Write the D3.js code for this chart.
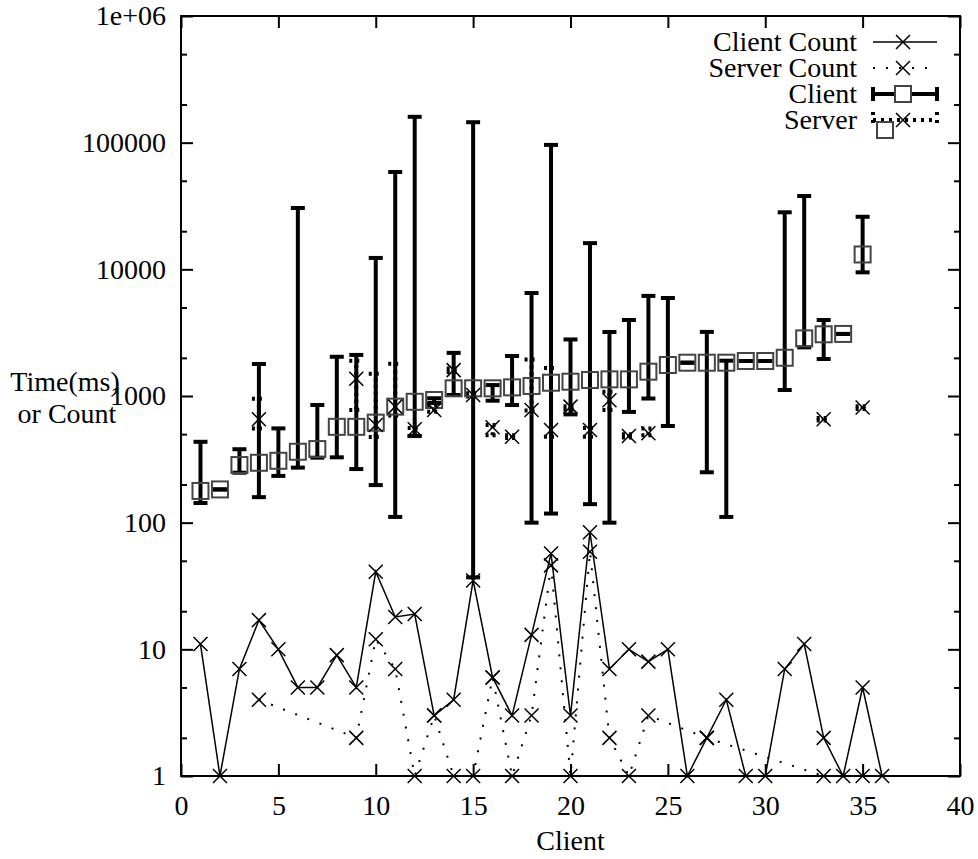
<!DOCTYPE html>
<html>
<head>
<meta charset="utf-8">
<script src="https://cdn.jsdelivr.net/npm/d3@7"></script>
<style>
  body { margin: 0; background: #fff; }
  text { font-family: "Liberation Serif", "DejaVu Serif", serif; fill: #000; }
</style>
</head>
<body>
<svg id="chart" width="978" height="859"></svg>
<script>
// Client count (solid line) and server count (dotted line)
const countClients = [1,2,3,4,5,6,7,8,9,10,11,12,13,14,15,16,17,18,19,20,21,22,23,24,25,26,27,28,29,30,31,32,33,34,35,36];
const clientCount  = [11,1,7,17,10,5,5,9,5,41,18,19,3,4,35,6,3,13,57,3,84,7,10,8,10,1,2,4,1,1,7,11,2,1,5,1];

const serverCountClients = [4,9,10,11,12,13,14,15,16,17,18,19,20,21,22,23,24,27,33,35];
const serverCount        = [4,2,12,7,1,3,1,1,6,1,3,46,1,59,2,1,3,2,1,1];

// Client time (ms): value with low / high error bar
const clientTimeClients = [1,2,3,4,5,6,7,8,9,10,11,12,13,14,15,16,17,18,19,20,21,22,23,24,25,26,27,28,29,30,31,32,33,34,35];
const clientTime = [178,183,285,297,308,363,381,571,571,616,824,900,930,1150,1150,1150,1170,1200,1273,1297,1337,1353,1353,1556,1757,1832,1832,1832,1889,1889,2004,2850,3070,3090,13100];
const clientLow  = [143,183,248,159,234,272,326,328,265,198,111,483,880,1018,37,918,849,100,118,716,140,100,749,955,580,1832,250,111,1889,1889,1115,2420,1960,3090,9470];
const clientHigh = [435,183,380,1790,555,30500,849,2040,2110,12300,58700,160000,960,2190,145000,1220,2070,6500,96000,2795,16100,3200,3980,6170,5940,1832,3207,1900,1889,1889,28200,37900,3980,3090,26000];

// Server time (ms): value with low / high error bar
const serverTimeClients = [4,9,10,11,12,13,14,15,16,17,18,19,20,21,22,23,24,33,35];
const serverTime = [655,1370,590,824,546,775,1600,1018,566,477,775,539,824,539,925,483,508,655,810];
const serverLow  = [555,775,475,700,483,750,1550,990,490,465,770,477,780,477,775,470,490,640,790];
const serverHigh = [950,1900,1500,1800,560,830,1650,1050,590,490,1940,1660,830,560,1080,500,555,670,830];

const xTicks = [0,5,10,15,20,25,30,35,40];
const yTicks = [1,10,100,1000,10000,100000,1000000];
const yMinorTicks = [2,5,20,50,200,500,2000,5000,20000,50000,200000,500000];

const legendLabels = ["Client Count", "Server Count", "Client", "Server"];

const svg = d3.select("#chart");
const plotLeft = 181, plotRight = 960, plotTop = 16, plotBottom = 776;

const x = d3.scaleLinear().domain([0, 40]).range([plotLeft, plotRight]);
const y = d3.scaleLog().domain([1, 1e6]).range([plotBottom, plotTop]);

const fontSize = 28;

// axes with inward ticks
const fmt = d => d === 1e6 ? "1e+06" : d3.format("d")(d);

const gx = svg.append("g").attr("transform", `translate(0,${plotBottom})`)
  .call(d3.axisBottom(x).tickValues(xTicks).tickSizeInner(-12).tickSizeOuter(0).tickPadding(19).tickFormat(d3.format("d")));
const gy = svg.append("g").attr("transform", `translate(${plotLeft},0)`)
  .call(d3.axisLeft(y).tickValues(yTicks).tickSizeInner(-12).tickSizeOuter(0).tickPadding(15).tickFormat(fmt));
const gyMinor = svg.append("g").attr("transform", `translate(${plotLeft},0)`)
  .call(d3.axisLeft(y).tickValues(yMinorTicks).tickSizeInner(-6).tickSizeOuter(0).tickFormat(""));
const gxTop = svg.append("g").attr("transform", `translate(0,${plotTop})`)
  .call(d3.axisTop(x).tickValues(xTicks).tickSizeInner(-12).tickSizeOuter(0).tickFormat(""));
const gyRight = svg.append("g").attr("transform", `translate(${plotRight},0)`)
  .call(d3.axisRight(y).tickValues(yTicks).tickSizeInner(-12).tickSizeOuter(0).tickFormat(""));
const gyRightMinor = svg.append("g").attr("transform", `translate(${plotRight},0)`)
  .call(d3.axisRight(y).tickValues(yMinorTicks).tickSizeInner(-6).tickSizeOuter(0).tickFormat(""));

[gx, gy, gyMinor, gxTop, gyRight, gyRightMinor].forEach(g => {
  g.select(".domain").remove();
  g.selectAll(".tick line").attr("stroke", "#000").attr("stroke-width", 2);
  g.selectAll(".tick text").style("font-size", fontSize + "px")
    .style("font-family", "'Liberation Serif', serif").attr("fill", "#000");
});

// frame
svg.append("rect")
  .attr("x", plotLeft).attr("y", plotTop)
  .attr("width", plotRight - plotLeft).attr("height", plotBottom - plotTop)
  .attr("fill", "none").attr("stroke", "#000").attr("stroke-width", 2);

// axis titles
svg.append("text")
  .attr("x", x(20)).attr("y", 850)
  .attr("text-anchor", "middle").style("font-size", fontSize + "px")
  .text("Client");

svg.append("text")
  .attr("x", 65).attr("y", 391)
  .attr("text-anchor", "middle").style("font-size", fontSize + "px")
  .text("Time(ms)");
svg.append("text")
  .attr("x", 67).attr("y", 423)
  .attr("text-anchor", "middle").style("font-size", fontSize + "px")
  .text("or Count");

// clip to plot area
svg.append("clipPath").attr("id", "plotclip")
  .append("rect").attr("x", plotLeft).attr("y", plotTop - 8)
  .attr("width", plotRight - plotLeft).attr("height", plotBottom - plotTop + 16);
const plot = svg.append("g").attr("clip-path", "url(#plotclip)");

const crossPath = "M-7,-7L7,7M-7,7L7,-7";
const boxSize = 16;
const capW = 7;

const clientCountData = countClients.map((c, i) => ({ x: c, v: clientCount[i] }));
const serverCountData = serverCountClients.map((c, i) => ({ x: c, v: serverCount[i] }));

const line = d3.line().x(d => x(d.x)).y(d => y(d.v));

plot.append("path")
  .datum(serverCountData)
  .attr("d", line)
  .attr("fill", "none").attr("stroke", "#000")
  .attr("stroke-width", 2).attr("stroke-dasharray", "2,11");

plot.append("path")
  .datum(clientCountData)
  .attr("d", line)
  .attr("fill", "none").attr("stroke", "#000")
  .attr("stroke-width", 1.5);

plot.selectAll(".cc").data(clientCountData).enter().append("path")
  .attr("transform", d => `translate(${x(d.x)},${y(d.v)})`)
  .attr("d", crossPath).attr("stroke", "#000").attr("stroke-width", 1.5).attr("fill", "none");

plot.selectAll(".sc").data(serverCountData).enter().append("path")
  .attr("transform", d => `translate(${x(d.x)},${y(d.v)})`)
  .attr("d", crossPath).attr("stroke", "#000").attr("stroke-width", 1.5).attr("fill", "none");

// time error bars
const clientTimeData = clientTimeClients.map((c, i) => ({ x: c, v: clientTime[i], lo: clientLow[i], hi: clientHigh[i] }));
const serverTimeData = serverTimeClients.map((c, i) => ({ x: c, v: serverTime[i], lo: serverLow[i], hi: serverHigh[i] }));

function errorBars(data, dash) {
  const g = plot.append("g").attr("stroke", "#000").attr("stroke-width", 4).attr("fill", "none");
  if (dash) g.attr("stroke-dasharray", dash);
  data.forEach(d => {
    const cx = x(d.x);
    g.append("line").attr("x1", cx).attr("x2", cx).attr("y1", y(d.lo)).attr("y2", y(d.hi));
    g.append("line").attr("x1", cx - capW).attr("x2", cx + capW).attr("y1", y(d.lo)).attr("y2", y(d.lo));
    g.append("line").attr("x1", cx - capW).attr("x2", cx + capW).attr("y1", y(d.hi)).attr("y2", y(d.hi));
  });
}

errorBars(clientTimeData, null);
errorBars(serverTimeData, "3,4");

plot.selectAll(".cbox").data(clientTimeData).enter().append("rect")
  .attr("x", d => x(d.x) - boxSize / 2).attr("y", d => y(d.v) - boxSize / 2)
  .attr("width", boxSize).attr("height", boxSize)
  .attr("fill", "none").attr("stroke", "#444").attr("stroke-width", 2);

plot.selectAll(".scross").data(serverTimeData).enter().append("path")
  .attr("transform", d => `translate(${x(d.x)},${y(d.v)})`)
  .attr("d", crossPath).attr("stroke", "#000").attr("stroke-width", 1.5).attr("fill", "none");

// legend
const legend = svg.append("g");
const lx0 = 873, lx1 = 937, lxm = 903, textX = 857;
const rows = [42, 68, 94, 120];

legendLabels.forEach((label, i) => {
  legend.append("text")
    .attr("x", textX).attr("y", rows[i]).attr("dy", "0.32em")
    .attr("text-anchor", "end").style("font-size", fontSize + "px")
    .text(label);
});

// Client Count sample
legend.append("line").attr("x1", lx0).attr("x2", lx1).attr("y1", rows[0]).attr("y2", rows[0])
  .attr("stroke", "#000").attr("stroke-width", 1.5);
legend.append("path").attr("transform", `translate(${lxm},${rows[0]})`).attr("d", crossPath)
  .attr("stroke", "#000").attr("stroke-width", 1.5);

// Server Count sample
legend.append("line").attr("x1", lx0).attr("x2", lx1).attr("y1", rows[1]).attr("y2", rows[1])
  .attr("stroke", "#000").attr("stroke-width", 2).attr("stroke-dasharray", "2,11");
legend.append("path").attr("transform", `translate(${lxm},${rows[1]})`).attr("d", crossPath)
  .attr("stroke", "#000").attr("stroke-width", 1.5);

// Client sample (error bar + box)
const lc = legend.append("g").attr("stroke", "#000").attr("stroke-width", 4);
lc.append("line").attr("x1", lx0).attr("x2", lx1).attr("y1", rows[2]).attr("y2", rows[2]);
lc.append("line").attr("x1", lx0).attr("x2", lx0).attr("y1", rows[2] - 7).attr("y2", rows[2] + 7);
lc.append("line").attr("x1", lx1).attr("x2", lx1).attr("y1", rows[2] - 7).attr("y2", rows[2] + 7);
legend.append("rect").attr("x", lxm - 8).attr("y", rows[2] - 8).attr("width", 16).attr("height", 16)
  .attr("fill", "#fff").attr("stroke", "#444").attr("stroke-width", 2);

// Server sample (dotted error bar + cross, box offset)
const ls = legend.append("g").attr("stroke", "#000").attr("stroke-width", 4).attr("stroke-dasharray", "3,5");
ls.append("line").attr("x1", lx0).attr("x2", lx1).attr("y1", rows[3]).attr("y2", rows[3]);
ls.append("line").attr("x1", lx0).attr("x2", lx0).attr("y1", rows[3] - 8).attr("y2", rows[3] + 8);
ls.append("line").attr("x1", lx1).attr("x2", lx1).attr("y1", rows[3] - 8).attr("y2", rows[3] + 8);
legend.append("rect").attr("x", 877).attr("y", rows[3] + 2).attr("width", 16).attr("height", 16)
  .attr("fill", "none").attr("stroke", "#444").attr("stroke-width", 2);
legend.append("path").attr("transform", `translate(${lxm},${rows[3]})`).attr("d", crossPath)
  .attr("stroke", "#000").attr("stroke-width", 1.5);
</script>
</body>
</html>
